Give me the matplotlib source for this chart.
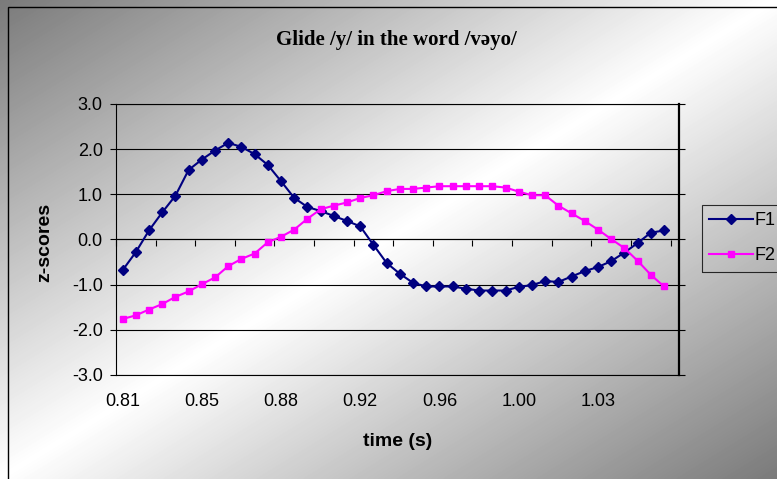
import numpy as np
from matplotlib import pyplot as plt
from matplotlib.patches import Rectangle

# Data (z-scores per sample, 42 samples)
time_labels = ["0.81", "0.85", "0.88", "0.92", "0.96", "1.00", "1.03"]
label_step = 6  # a time label every 6 samples

f1 = [-0.68, -0.28, 0.20, 0.60, 0.97, 1.54, 1.77, 1.97, 2.14, 2.05,
      1.89, 1.65, 1.29, 0.92, 0.72, 0.63, 0.52, 0.41, 0.29, -0.12,
      -0.52, -0.76, -0.96, -1.04, -1.04, -1.04, -1.09, -1.13, -1.13, -1.13,
      -1.05, -1.01, -0.92, -0.94, -0.82, -0.70, -0.61, -0.48, -0.29, -0.08,
      0.15, 0.20]
f2 = [-1.76, -1.68, -1.55, -1.43, -1.27, -1.15, -0.99, -0.84, -0.59, -0.43,
      -0.31, -0.06, 0.06, 0.22, 0.46, 0.67, 0.75, 0.82, 0.92, 0.98,
      1.07, 1.12, 1.12, 1.15, 1.18, 1.18, 1.18, 1.18, 1.18, 1.15,
      1.06, 0.98, 0.98, 0.75, 0.58, 0.41, 0.22, 0.01, -0.19, -0.47,
      -0.78, -1.04]

W, H = 777, 479
SANS = ["Liberation Sans", "DejaVu Sans"]


def draw_background(fig):
    # Excel-like diagonal gradient: gray -> white -> gray
    bg = fig.add_axes([0, 0, 1, 1], zorder=-10)
    xx, yy = np.meshgrid(np.linspace(0, 1, W), np.linspace(0, 1, H))
    t = (xx + yy) / 2
    g = 0.48 + 0.52 * (1 - np.abs(2 * t - 1))
    bg.imshow(g, cmap="gray", vmin=0, vmax=1, aspect="auto", origin="upper",
              extent=[0, 1, 0, 1], interpolation="bilinear")
    bg.set_axis_off()
    # chart frame (right/bottom sides run off the picture)
    fig.patches.append(Rectangle((8 / W, -0.1), 1.2, 1 - 7 / H + 0.1,
                                 transform=fig.transFigure, fill=False,
                                 edgecolor="black", linewidth=1.0))


def main():
    plt.rcParams["font.family"] = SANS
    fig = plt.figure(figsize=(W / 100, H / 100), dpi=100)
    draw_background(fig)

    left, right, top, bottom = 116, 679, 104, 375
    ax = fig.add_axes([left / W, 1 - bottom / H, (right - left) / W, (bottom - top) / H])
    ax.patch.set_alpha(0)

    x = np.arange(1, len(f1) + 1)
    l1, = ax.plot(x, f1, color="#000080", marker="D", markersize=5.5, linewidth=1.5, label="F1")
    l2, = ax.plot(x, f2, color="#FF00FF", marker="s", markersize=5, linewidth=1.5, label="F2")

    # category axis: samples centred between tick marks
    ax.set_xlim(0.5, 43.14)
    ax.set_ylim(-3, 3)
    ax.set_yticks(np.arange(-3, 4, 1))
    ax.set_yticklabels([f"{v:.1f}" for v in np.arange(-3, 4, 1)])
    ax.yaxis.grid(True, color="black", linewidth=0.8)
    ax.tick_params(axis="y", direction="out", length=4.5, width=0.8, pad=5,
                   labelsize=13, right=True)
    ax.set_xticks(x[::label_step])
    ax.set_xticklabels(time_labels)
    ax.tick_params(axis="x", length=0, pad=13, labelsize=13)

    for side in ["top", "bottom", "left"]:
        ax.spines[side].set_linewidth(0.8)
    ax.spines["right"].set_linewidth(1.6)

    # tick marks on the zero line
    zero_axis = ax.secondary_xaxis(0.5)
    zero_axis.set_xticks(np.arange(0.5, len(f1) + 1, 3))
    zero_axis.tick_params(direction="out", length=4, width=0.8, labelbottom=False,
                          labeltop=False, bottom=True, top=False)
    zero_axis.spines["bottom"].set_linewidth(0.8)

    ax.set_xlabel("time (s)", fontsize=14, fontweight="bold", va="center")
    ax.xaxis.set_label_coords(0.5, (bottom - 441) / (bottom - top))
    ax.set_ylabel("z-scores", fontsize=14, fontweight="bold", va="center")
    ax.yaxis.set_label_coords((45 - left) / (right - left), 0.49)

    fig.text(396 / W, 1 - 40 / H, "Glide /y/ in the word /v\u0259yo/",
             ha="center", va="center", fontsize=15, fontweight="bold",
             family=["Liberation Serif", "DejaVu Serif"])

    leg = fig.legend(handles=[l1, l2], loc="upper left",
                     bbox_to_anchor=(702 / W, 1 - 205 / H), fontsize=13,
                     frameon=True, fancybox=False, handlelength=2.4,
                     handletextpad=0.12, borderpad=0.4, labelspacing=1.0,
                     borderaxespad=0)
    leg.get_frame().set_edgecolor("black")
    leg.get_frame().set_facecolor("none")
    leg.get_frame().set_linewidth(0.8)

    fig.savefig("out.png", dpi=100)


if __name__ == "__main__":
    main()
